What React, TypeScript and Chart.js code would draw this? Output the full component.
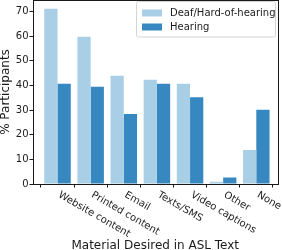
import React, { useEffect, useRef } from 'react';
import { Chart, registerables } from 'chart.js';

Chart.register(...registerables);

const categories = ['Website content', 'Printed content', 'Email', 'Texts/SMS', 'Video captions', 'Other', 'None'];
const seriesNames = ['Deaf/Hard-of-hearing', 'Hearing'];
const deafValues = [71.1, 59.7, 43.9, 42.3, 40.6, 0.9, 13.8];
const hearingValues = [40.6, 39.4, 28.4, 40.6, 35.2, 2.6, 30.1];
const yTicks = [0, 10, 20, 30, 40, 50, 60, 70];
const xTitle = 'Material Desired in ASL Text';
const yTitle = '% Participants';

const FONT = "'DejaVu Sans', sans-serif";
const LIGHT = '#a8cfe5';
const DARK = '#3787c0';
const INK = '#1a1a1a';

const customDraw = {
  id: 'customDraw',
  afterDraw(chart: any) {
    const { ctx, chartArea } = chart;
    const xs = chart.scales.x;
    ctx.save();
    // frame (top & right spines)
    ctx.strokeStyle = INK;
    ctx.lineWidth = 1;
    ctx.strokeRect(Math.round(chartArea.left) + 0.5, Math.round(chartArea.top) + 0.5,
      Math.round(chartArea.right) - Math.round(chartArea.left), Math.round(chartArea.bottom) - Math.round(chartArea.top));
    // rotated category labels
    ctx.fillStyle = INK;
    ctx.font = `10px ${FONT}`;
    ctx.textAlign = 'left';
    ctx.textBaseline = 'top';
    categories.forEach((c, i) => {
      const x = xs.getPixelForValue(i);
      ctx.save();
      ctx.translate(x + 4, chartArea.bottom + 6);
      ctx.rotate(Math.PI / 6);
      ctx.fillText(c, 0, 0);
      ctx.restore();
    });
    // legend
    const lx = 136, ly = chartArea.top + 1.5, lw = chartArea.right - 2.5 - lx, lh = 35.5;
    ctx.beginPath();
    ctx.roundRect(lx + 0.5, ly, lw, lh, 2);
    ctx.fillStyle = 'rgba(255,255,255,0.85)';
    ctx.fill();
    ctx.strokeStyle = '#d4d4d4';
    ctx.stroke();
    chart.data.datasets.forEach((ds: any, i: number) => {
      const cy = ly + 11.5 + i * 14;
      ctx.fillStyle = ds.backgroundColor;
      ctx.fillRect(lx + 6, cy - 3.5, 20, 7);
      ctx.fillStyle = INK;
      ctx.textBaseline = 'middle';
      ctx.fillText(ds.label, lx + 34, cy);
    });
    ctx.restore();
  },
};

export default function App() {
  const ref = useRef<HTMLCanvasElement>(null);
  useEffect(() => {
    document.body.style.margin = '0';
    const chart = new Chart(ref.current!, {
      type: 'bar',
      data: {
        datasets: [
          { label: seriesNames[0], data: deafValues.map((v, i) => ({ x: i, y: v })), backgroundColor: LIGHT },
          { label: seriesNames[1], data: hearingValues.map((v, i) => ({ x: i, y: v })), backgroundColor: DARK },
        ],
      },
      options: {
        animation: false,
        responsive: true,
        maintainAspectRatio: false,
        layout: { padding: { top: 0, right: 4.5, left: 0, bottom: 0 } },
        datasets: { bar: { categoryPercentage: 0.8, barPercentage: 1.0 } },
        plugins: { legend: { display: false }, tooltip: { enabled: false } },
        scales: {
          x: {
            type: 'linear',
            min: -0.74,
            max: 6.64,
            offset: false,
            afterBuildTicks: (s: any) => { s.ticks = categories.map((_, i) => ({ value: i })); },
            afterFit: (s: any) => { s.height = 66; s.paddingLeft = 0; s.paddingRight = 0; },
            grid: { display: true, drawOnChartArea: false, drawTicks: true, tickLength: 3.5, color: INK },
            border: { display: true, color: INK, width: 1 },
            ticks: { display: false },
            title: { display: true, text: xTitle, color: INK, font: { family: FONT, size: 12 }, padding: { top: 0, bottom: -3 } },
          },
          y: {
            min: 0,
            max: 74.6,
            afterBuildTicks: (s: any) => { s.ticks = yTicks.map((v) => ({ value: v })); },
            afterFit: (s: any) => { s.width = 33; s.paddingTop = 0; s.paddingBottom = 0; },
            grid: { display: true, drawOnChartArea: false, drawTicks: true, tickLength: 3.5, color: INK },
            border: { display: true, color: INK, width: 1 },
            ticks: { color: INK, font: { family: FONT, size: 10 }, padding: 1 },
            title: { display: true, text: yTitle, color: INK, font: { family: FONT, size: 12 }, padding: { top: -1, bottom: 0 } },
          },
        },
      },
      plugins: [customDraw],
    });
    return () => chart.destroy();
  }, []);
  return (
    <div style={{ width: 282, height: 250, position: 'relative' }}>
      <canvas ref={ref} />
    </div>
  );
}
